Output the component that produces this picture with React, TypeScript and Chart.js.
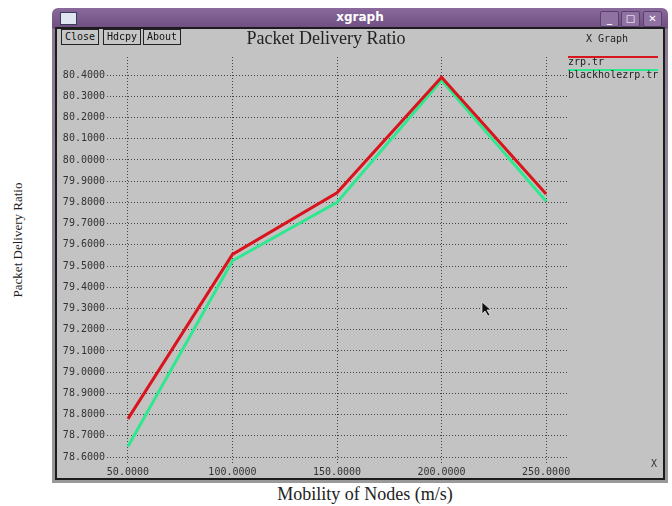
import React, { useEffect, useRef } from "react";
import { Chart, registerables } from "chart.js";

Chart.register(...registerables);

const xValues = [50, 100, 150, 200, 250];
const zrpValues = [78.78, 79.555, 79.845, 80.39, 79.84];
const blackholeValues = [78.65, 79.525, 79.8, 80.375, 79.805];
const xTicks = [50, 100, 150, 200, 250];
const yTicks = [78.6, 78.7, 78.8, 78.9, 79.0, 79.1, 79.2, 79.3, 79.4, 79.5, 79.6, 79.7, 79.8, 79.9, 80.0, 80.1, 80.2, 80.3, 80.4];
const seriesNames = ["zrp.tr", "blackholezrp.tr"];
const seriesColors = ["#d8141c", "#2ee890"];

const mono = "'DejaVu Sans Mono', monospace";
const serif = "'Liberation Serif', 'Times New Roman', serif";

export default function App() {
  const ref = useRef<HTMLCanvasElement | null>(null);

  useEffect(() => {
    if (!ref.current) return;
    const chart = new Chart(ref.current, {
      type: "line",
      data: {
        datasets: [
          {
            label: seriesNames[0],
            data: xValues.map((x, i) => ({ x, y: zrpValues[i] })),
            borderColor: seriesColors[0],
            borderWidth: 3,
            pointRadius: 0,
            tension: 0,
            fill: false,
          },
          {
            label: seriesNames[1],
            data: xValues.map((x, i) => ({ x, y: blackholeValues[i] })),
            borderColor: seriesColors[1],
            borderWidth: 3,
            pointRadius: 0,
            tension: 0,
            fill: false,
          },
        ],
      },
      options: {
        animation: false,
        responsive: false,
        layout: { padding: { top: 29, right: 96, bottom: 0, left: 0 } },
        plugins: { legend: { display: false }, title: { display: false }, tooltip: { enabled: false } },
        scales: {
          x: {
            type: "linear",
            min: 40,
            max: 260,
            afterBuildTicks: (s: any) => {
              s.ticks = xTicks.map((v) => ({ value: v }));
            },
            afterFit: (s: any) => {
              s.height = 15;
            },
            grid: { color: "#444", drawTicks: false, lineWidth: 1 },
            border: { display: false, dash: [1, 2] },
            ticks: {
              autoSkip: false,
              maxRotation: 0,
              padding: 3,
              color: "#333",
              font: { family: mono, size: 10 },
              callback: (v: any) => Number(v).toFixed(4),
            },
          },
          y: {
            type: "linear",
            min: 78.572,
            max: 80.485,
            afterBuildTicks: (s: any) => {
              s.ticks = yTicks.map((v) => ({ value: v }));
            },
            afterFit: (s: any) => {
              s.width = 50;
            },
            grid: { color: "#444", drawTicks: false, lineWidth: 1 },
            border: { display: false, dash: [1, 2] },
            ticks: {
              autoSkip: false,
              padding: 2,
              color: "#333",
              font: { family: mono, size: 10 },
              callback: (v: any) => Number(v).toFixed(4),
            },
          },
        },
      },
    });
    return () => chart.destroy();
  }, []);

  const btn = (label: string, left: number, width: number) => (
    <div
      key={label}
      style={{
        position: "absolute",
        left,
        top: 29,
        width,
        height: 14,
        border: "1px solid #222",
        background: "#c6c6c6",
        fontFamily: mono,
        fontSize: 10,
        lineHeight: "14px",
        textAlign: "center",
        color: "#111",
      }}
    >
      {label}
    </div>
  );

  const ctrl = (left: number, sym: React.ReactNode) => (
    <div
      style={{
        position: "absolute",
        left,
        top: 11,
        width: 17,
        height: 14,
        background: "#8f72a2",
        border: "1px solid #5b3f6c",
        borderRadius: 2,
        color: "#fff",
        fontFamily: "'DejaVu Sans', sans-serif",
        fontSize: 10,
        fontWeight: "bold",
        lineHeight: "14px",
        textAlign: "center",
      }}
    >
      {sym}
    </div>
  );

  return (
    <div style={{ position: "absolute", left: 0, top: 0, width: 672, height: 506, background: "#fff", overflow: "hidden" }}>
      {/* window frame */}
      <div
        style={{
          position: "absolute",
          left: 52,
          top: 8,
          width: 616,
          height: 475,
          background: "linear-gradient(#8a6a9c, #6f4f82 20px, #8a7a92 21px, #9a9a9a)",
          borderRadius: "6px 6px 0 0",
        }}
      />
      {/* title bar */}
      <div style={{ position: "absolute", left: 60, top: 12, width: 15, height: 11, background: "#dfe6f2", border: "1px solid #3a3a5a" }} />
      <div
        style={{
          position: "absolute",
          left: 52,
          top: 8,
          width: 616,
          height: 19,
          color: "#fff",
          fontFamily: "'DejaVu Sans', sans-serif",
          fontWeight: "bold",
          fontSize: 12,
          lineHeight: "19px",
          textAlign: "center",
        }}
      >
        xgraph
      </div>
      {ctrl(600, "_")}
      {ctrl(621, "□")}
      {ctrl(643, "✕")}
      {/* content area */}
      <div
        style={{
          position: "absolute",
          left: 55,
          top: 27,
          width: 606,
          height: 449,
          background: "#c3c3c3",
          border: "2px solid #1c1c1c",
        }}
      />
      <canvas ref={ref} width={606} height={450} style={{ position: "absolute", left: 57, top: 28 }} />
      {btn("Close", 61, 36)}
      {btn("Hdcpy", 103, 36)}
      {btn("About", 143, 36)}
      <div
        style={{
          position: "absolute",
          left: 226,
          top: 28,
          width: 200,
          height: 20,
          textAlign: "center",
          fontFamily: serif,
          fontSize: 18,
          lineHeight: "20px",
          color: "#222",
        }}
      >
        Packet Delivery Ratio
      </div>
      <div style={{ position: "absolute", left: 567, top: 33, width: 80, textAlign: "center", fontFamily: mono, fontSize: 10, color: "#222" }}>
        X Graph
      </div>
      {/* legend */}
      <div style={{ position: "absolute", left: 568, top: 56, width: 90, height: 2, background: seriesColors[0] }} />
      <div style={{ position: "absolute", left: 568, top: 56, fontFamily: mono, fontSize: 10, lineHeight: "12px", color: "#222" }}>
        {seriesNames[0]}
      </div>
      <div style={{ position: "absolute", left: 568, top: 69, width: 90, height: 2, background: seriesColors[1] }} />
      <div style={{ position: "absolute", left: 568, top: 69, fontFamily: mono, fontSize: 10, lineHeight: "12px", color: "#222" }}>
        {seriesNames[1]}
      </div>
      <div style={{ position: "absolute", left: 651, top: 458, fontFamily: mono, fontSize: 10, color: "#333" }}>X</div>
      {/* cursor */}
      <svg style={{ position: "absolute", left: 481, top: 301 }} width="12" height="16" viewBox="0 0 12 16">
        <path d="M1 1 L1 13 L4 10 L7 15 L9 14 L6 9 L10 9 Z" fill="#111" stroke="#eee" strokeWidth="0.7" />
      </svg>
      {/* outer axis titles */}
      <div
        style={{
          position: "absolute",
          left: 18 - 100,
          top: 240 - 10,
          width: 200,
          height: 20,
          lineHeight: "20px",
          textAlign: "center",
          fontFamily: serif,
          fontSize: 13,
          color: "#222",
          transform: "rotate(-90deg)",
        }}
      >
        Packet Delivery Ratio
      </div>
      <div
        style={{
          position: "absolute",
          left: 265,
          top: 484,
          width: 200,
          height: 20,
          lineHeight: "20px",
          textAlign: "center",
          fontFamily: serif,
          fontSize: 18,
          color: "#222",
        }}
      >
        Mobility of Nodes (m/s)
      </div>
    </div>
  );
}
